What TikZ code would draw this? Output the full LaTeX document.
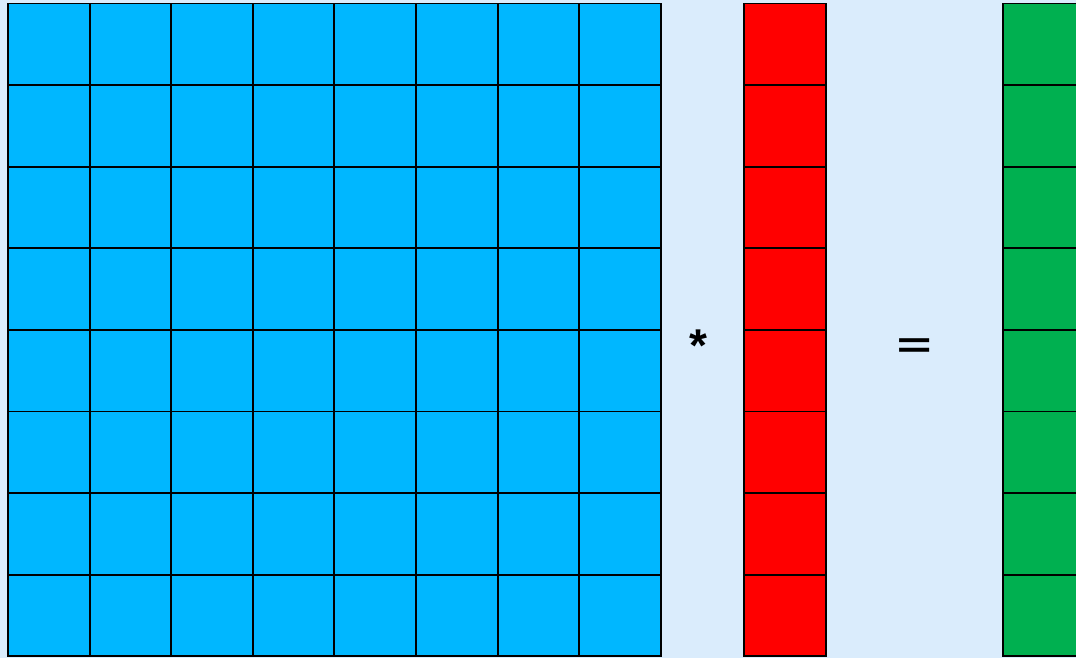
\documentclass[tikz,border=0pt]{standalone}
\usepackage{fontspec}
\setmainfont{Liberation Sans}
\newfontfamily\opfont{DejaVu Sans}
\usepackage{tikz}
\usetikzlibrary{positioning}
\definecolor{bgblue}{RGB}{218,236,252}
\definecolor{matblue}{RGB}{0,183,255}
\definecolor{vecred}{RGB}{255,0,0}
\definecolor{resgreen}{RGB}{0,176,80}

\begin{document}
\begin{tikzpicture}[x=1pt,y=1pt,
  cell/.style={draw=black,line width=1.9pt},
  op/.style={inner sep=0pt,font=\opfont\fontsize{48}{56}\selectfont}]
 \useasboundingbox (0,0) rectangle (1076,658);
 \fill[bgblue] (0,0) rectangle (1076,658);
 \fill[matblue] (8,1.7) rectangle (660.8,654.5);
 \fill[vecred] (744,1.7) rectangle (825.6,654.5);
 \fill[resgreen] (1003,1.7) rectangle (1084.6,654.5);
 \foreach \j in {0,...,7}{
   \pgfmathsetmacro\y{654.5-81.6*\j}
   \foreach \i in {0,...,7}{
     \pgfmathsetmacro\x{8+81.6*\i}
     \draw[cell] (\x,\y) rectangle ++(81.6,-81.6);}
   \draw[cell] (744,\y) rectangle ++(81.6,-81.6);
   \draw[cell] (1003,\y) rectangle ++(81.6,-81.6);}
 \node[op,font=\fontsize{46}{56}\selectfont\bfseries] (times) at (698,312) {*};
 \node[op] (equals) at (915,308) {=};
\end{tikzpicture}
\end{document}
